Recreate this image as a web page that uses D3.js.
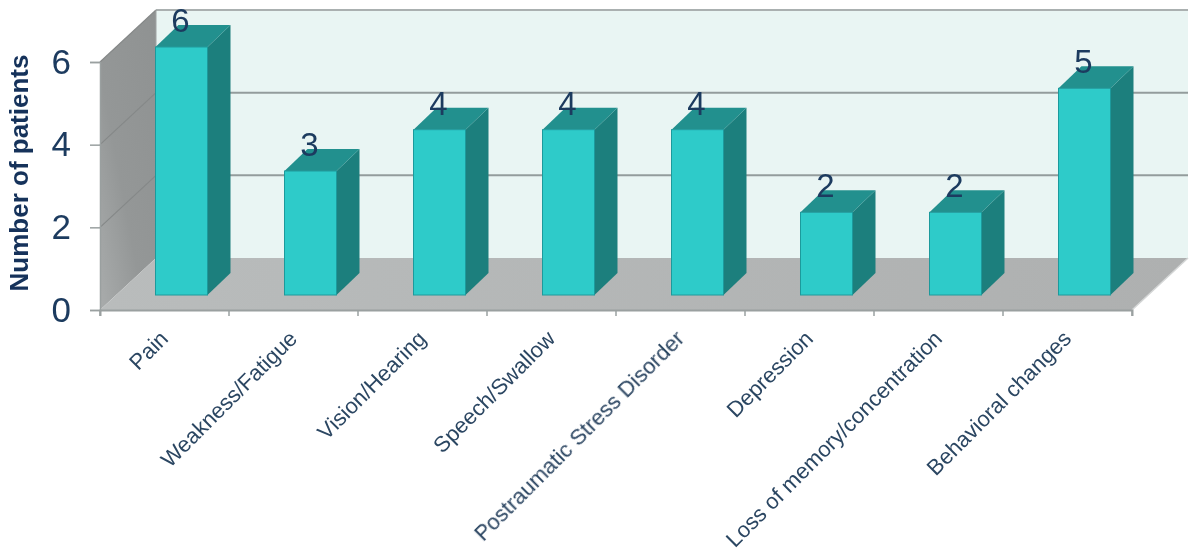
<!DOCTYPE html>
<html><head><meta charset="utf-8">
<script src="https://cdn.jsdelivr.net/npm/d3@7"></script>
<style>html,body{margin:0;padding:0;background:#fff}svg{display:block}</style>
</head><body>
<svg id="c" width="1200" height="560"></svg>
<script>
const categories = ["Pain","Weakness/Fatigue","Vision/Hearing","Speech/Swallow","Postraumatic Stress Disorder","Depression","Loss of memory/concentration","Behavioral changes"];
const patients = [6,3,4,4,4,2,2,5];
const yTicks = [0,2,4,6];
const yTitle = "Number of patients";

const svg = d3.select("#c");
const x = d3.scaleBand().domain(categories).range([100,1132]).paddingInner(0).paddingOuter(0);
const y = d3.scaleLinear().domain([0,6]).range([310,62]);
const depth = {x:56,y:-52};
const barOff = {x:17,y:-15};
const barDepth = {x:23,y:-22};
const barW = 52;
const pts = a => a.map(p=>p.join(",")).join(" ");

const defs = svg.append("defs");
const sg = defs.append("linearGradient").attr("id","side").attr("x1",0).attr("x2",1).attr("y1",1).attr("y2",0);
sg.append("stop").attr("offset",0).attr("stop-color","#a9acac");
sg.append("stop").attr("offset",0.4).attr("stop-color","#949797");
sg.append("stop").attr("offset",1).attr("stop-color","#8f9292");
const fg = defs.append("linearGradient").attr("id","floor").attr("x1",0).attr("x2",1).attr("y1",0).attr("y2",0);
fg.append("stop").attr("offset",0).attr("stop-color","#b9bcbc");
fg.append("stop").attr("offset",1).attr("stop-color","#aeb0b0");
const soft = defs.append("filter").attr("id","soft").attr("x","-5%").attr("y","-5%").attr("width","110%").attr("height","110%");
soft.append("feGaussianBlur").attr("stdDeviation",0.5);

const root = svg.append("g").attr("filter","url(#soft)");
const x0 = x.range()[0], x1 = x.range()[1], y0 = y(0), yT = y(6);

// back wall
root.append("polygon").attr("fill","#e9f5f3")
  .attr("points",pts([[x0+depth.x,yT+depth.y],[x1+depth.x,yT+depth.y],[x1+depth.x,y0+depth.y],[x0+depth.x,y0+depth.y]]));
// side wall
root.append("polygon").attr("fill","url(#side)")
  .attr("points",pts([[x0,yT],[x0+depth.x,yT+depth.y],[x0+depth.x,y0+depth.y],[x0,y0]]));
// floor
root.append("polygon").attr("fill","url(#floor)")
  .attr("points",pts([[x0,y0],[x1,y0],[x1+depth.x,y0+depth.y],[x0+depth.x,y0+depth.y]]));
// gridlines
yTicks.filter(t=>t>0).forEach(t=>{
  root.append("line").attr("x1",x0+depth.x).attr("x2",x1+depth.x).attr("y1",y(t)+depth.y).attr("y2",y(t)+depth.y)
    .attr("stroke",t===6?"#aab0b0":"#939c9c").attr("stroke-width",2);
  root.append("line").attr("x1",x0).attr("x2",x0+depth.x).attr("y1",y(t)).attr("y2",y(t)+depth.y)
    .attr("stroke","#858888").attr("stroke-width",1.2);
});
root.append("line").attr("x1",x0+depth.x).attr("x2",x0+depth.x).attr("y1",yT+depth.y).attr("y2",y0+depth.y).attr("stroke","#a0a4a4").attr("stroke-width",1);
root.append("line").attr("x1",x1).attr("x2",x1+depth.x).attr("y1",y0).attr("y2",y0+depth.y).attr("stroke","#d4d6d6").attr("stroke-width",1.5);

// axes
const xAxis = d3.axisBottom(x).tickSize(6).tickFormat("").tickValues(categories);
const gx = root.append("g").attr("transform",`translate(0,${y0})`).call(xAxis);
gx.selectAll(".tick").remove();
gx.select(".domain").attr("stroke","#9aa0a0").attr("stroke-width",2);
const edges = categories.map(c=>x(c)).concat([x1]);
gx.selectAll("line.edge").data(edges).join("line").attr("class","edge")
  .attr("x1",d=>d).attr("x2",d=>d).attr("y1",0).attr("y2",6).attr("stroke","#9aa0a0").attr("stroke-width",1.5);

const yAxis = d3.axisLeft(y).tickValues(yTicks).tickSize(10).tickPadding(19).tickFormat(d3.format("d"));
const gy = root.append("g").attr("transform",`translate(${x0},0)`).call(yAxis);
gy.select(".domain").attr("stroke","#9aa0a0").attr("stroke-width",1.5);
gy.selectAll(".tick line").attr("stroke","#9aa0a0").attr("stroke-width",1.5);
gy.selectAll(".tick text").attr("font-family","Liberation Sans").attr("font-size",35).attr("fill","#1c3a5e");

// bars
const bars = root.selectAll("g.bar").data(categories.map((c,i)=>({c,v:patients[i]}))).join("g").attr("class","bar");
const bl = d=>x(d.c)+x.bandwidth()/2-barW/2+barOff.x;
bars.append("polygon").attr("fill","#1f7f7d")
  .attr("points",d=>{const l=bl(d)+barW,b=y0+barOff.y,t=y(d.v)+barOff.y;
    return pts([[l,t],[l+barDepth.x,t+barDepth.y],[l+barDepth.x,b+barDepth.y],[l,b]]);});
bars.append("polygon").attr("fill","#22908e")
  .attr("points",d=>{const l=bl(d),t=y(d.v)+barOff.y;
    return pts([[l,t],[l+barW,t],[l+barW+barDepth.x,t+barDepth.y],[l+barDepth.x,t+barDepth.y]]);});
bars.append("rect").attr("x",bl).attr("y",d=>y(d.v)+barOff.y).attr("width",barW)
  .attr("height",d=>y0-y(d.v)).attr("fill","#2ecbc9").attr("stroke","#1f9a9c").attr("stroke-width",1);
// value labels
bars.append("text").attr("x",d=>bl(d)+barW/2-1).attr("y",d=>y(d.v)+barOff.y-15)
  .attr("text-anchor","middle").attr("font-family","Liberation Sans").attr("font-size",33).attr("fill","#1c3a5e").text(d=>d.v);

// category labels
root.selectAll("text.cat").data(categories).join("text").attr("class","cat")
  .attr("transform",c=>`translate(${x(c)+x.bandwidth()/2+5},${y0+30}) rotate(-45)`)
  .attr("text-anchor","end").attr("font-family","Liberation Sans").attr("font-size",22).attr("fill","#2c4662").text(c=>c);

// y title
root.append("text").attr("transform","translate(28,173) rotate(-90)").attr("text-anchor","middle")
  .attr("font-family","Liberation Sans").attr("font-weight","bold").attr("font-size",26).attr("fill","#12305a").text(yTitle);
</script>
</body></html>
